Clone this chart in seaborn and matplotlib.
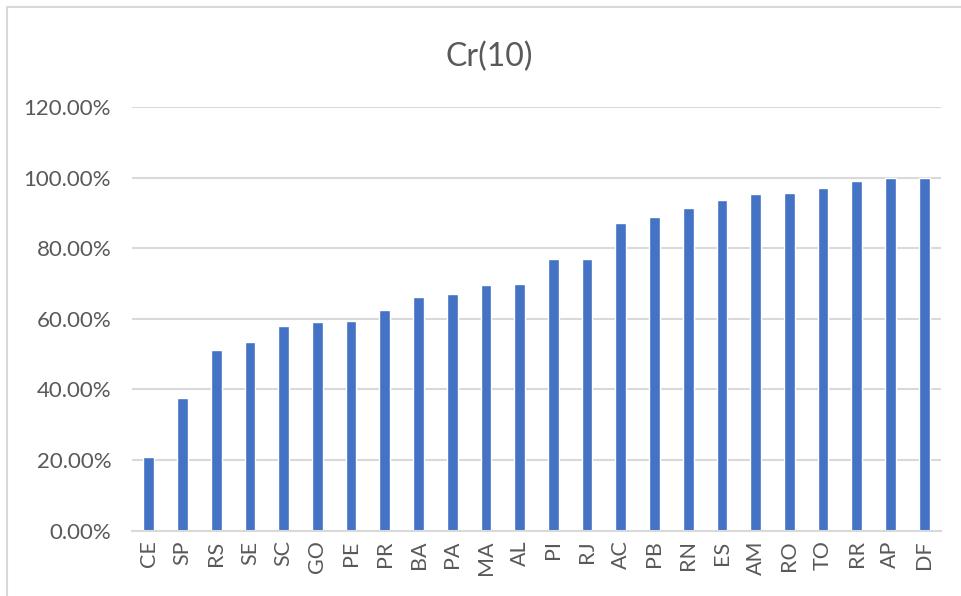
import matplotlib
matplotlib.use("Agg")
import matplotlib.pyplot as plt
from matplotlib.patches import Rectangle
from matplotlib.ticker import PercentFormatter, MultipleLocator
import seaborn as sns
import pandas as pd

# Cr(10) concentration ratio by state, sorted ascending
states = ["CE", "SP", "RS", "SE", "SC", "GO", "PE", "PR", "BA", "PA", "MA", "AL",
          "PI", "RJ", "AC", "PB", "RN", "ES", "AM", "RO", "TO", "RR", "AP", "DF"]
cr10 = [0.209, 0.376, 0.511, 0.534, 0.581, 0.592, 0.595, 0.624, 0.662, 0.671, 0.697, 0.699,
        0.769, 0.770, 0.871, 0.888, 0.913, 0.937, 0.954, 0.956, 0.971, 0.990, 1.000, 1.000]

df = pd.DataFrame({"state": states, "cr10": cr10})

sns.set_style("white")
plt.rcParams["font.family"] = ["Lato", "DejaVu Sans"]

W, H = 961, 596
fig = plt.figure(figsize=(W / 100, H / 100), dpi=100)
ax = fig.add_axes([132 / W, 1 - 530.7 / H, (941 - 132) / W, (530.7 - 107) / H])

bar_color = "#4472C4"
grid_color = "#D9D9D9"
text_color = "#595959"

sns.barplot(data=df, x="state", y="cr10", color=bar_color, saturation=1,
            width=0.32, ax=ax)

ax.set_xlim(-0.5, len(states) - 0.5)
ax.set_ylim(0, 1.2)
ax.yaxis.set_major_locator(MultipleLocator(0.2))
ax.yaxis.set_major_formatter(PercentFormatter(xmax=1, decimals=2))
ax.set_xlabel("")
ax.set_ylabel("")

ax.grid(axis="y", color=grid_color, linewidth=1.5)
ax.set_axisbelow(True)
for side in ["top", "right", "left"]:
    ax.spines[side].set_visible(False)
ax.spines["bottom"].set_color(grid_color)
ax.spines["bottom"].set_linewidth(1.5)

ax.tick_params(axis="both", length=0, colors=text_color)
ax.tick_params(axis="y", pad=15, labelsize=16)
ax.tick_params(axis="x", pad=7, labelsize=15.5)
for lbl in ax.get_xticklabels():
    lbl.set_rotation(90)
    lbl.set_va("top")
    lbl.set_ha("center")

fig.text(489 / W, 1 - 57 / H, "Cr(10)", ha="center", va="center",
         fontsize=23, color=text_color)

# chart area border (top and left edges visible)
fig.patches.append(Rectangle((7 / W, -0.1), 1.2, 1 - 7 / H + 0.1,
                             transform=fig.transFigure, fill=False,
                             edgecolor=grid_color, linewidth=1.5))

fig.savefig("out.png", dpi=100)
